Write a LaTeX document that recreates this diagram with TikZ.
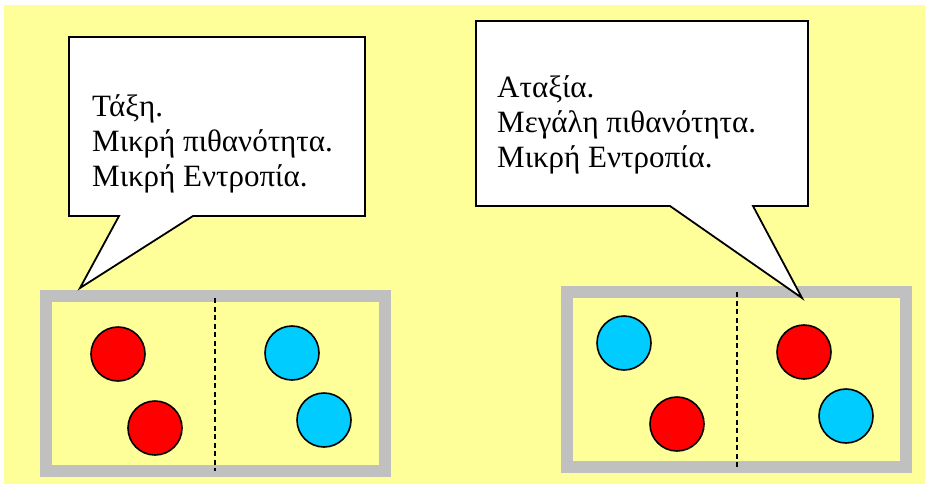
\documentclass[tikz,border=0pt]{standalone}
\usepackage{fontspec}
\setmainfont{Liberation Serif}
\definecolor{bgyellow}{HTML}{FFFF99}
\definecolor{ballred}{HTML}{FF0000}
\definecolor{ballcyan}{HTML}{00CCFF}
\definecolor{framegray}{HTML}{C0C0C0}
\begin{document}
\begin{tikzpicture}[x=1pt,y=-1pt,
  callout/.style={draw=black,fill=white,line width=1.8pt,line join=miter},
  calltext/.style={anchor=base west,inner sep=0pt,align=left,font=\fontsize{31}{34.7}\selectfont},
  frame/.style={draw=framegray,line width=12pt},
  divider/.style={draw=black,line width=1.5pt,dash pattern=on 5pt off 3.5pt},
  redball/.style={circle,draw=black,line width=1.6pt,fill=ballred,minimum size=54pt,inner sep=0pt},
  cyanball/.style={circle,draw=black,line width=1.6pt,fill=ballcyan,minimum size=54pt,inner sep=0pt}]
\useasboundingbox (0,0) rectangle (925,484);
\fill[bgyellow] (4,5) rectangle (925,484);
% left container
\draw[frame] (46,296) rectangle (385,471);
\coordinate (d1t) at (215,298);
\coordinate (d1b) at (215,471);
\draw[divider] (d1t) -- (d1b);
\node[redball] (r1) at (118,354) {};
\node[redball] (r2) at (155,428) {};
\node[cyanball] (c1) at (292,353) {};
\node[cyanball] (c2) at (324,420) {};
% right container
\draw[frame] (567,292) rectangle (906,467);
\coordinate (d2t) at (737,292);
\coordinate (d2b) at (737,467);
\draw[divider] (d2t) -- (d2b);
\node[cyanball] (c3) at (624,343) {};
\node[redball] (r3) at (677,424) {};
\node[redball] (r4) at (804,352) {};
\node[cyanball] (c4) at (846,416) {};
% callout 1
\coordinate (tip1) at (80,288);
\draw[callout] (69,37) -- (365,37) -- (365,216) -- (193,216) -- (tip1) -- (119,216) -- (69,216) -- cycle;
\node[calltext] (t1) at (92,186) {Τάξη.\\Μικρή πιθανότητα.\\Μικρή Εντροπία.};
% callout 2
\coordinate (tip2) at (802,298);
\draw[callout] (476,21) -- (808,21) -- (808,206) -- (753,206) -- (tip2) -- (670,206) -- (476,206) -- cycle;
\node[calltext] (t2) at (497,167) {Αταξία.\\Μεγάλη πιθανότητα.\\Μικρή Εντροπία.};
\end{tikzpicture}
\end{document}
